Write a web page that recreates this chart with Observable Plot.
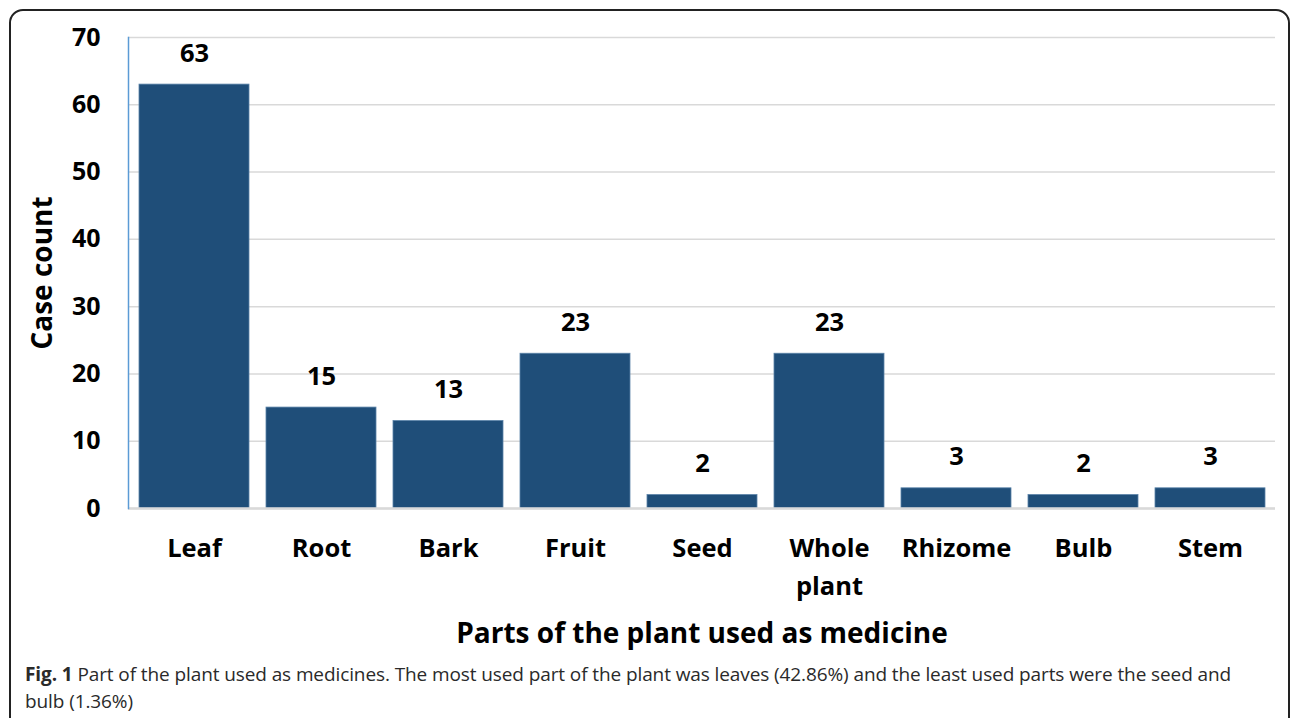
<!DOCTYPE html>
<html>
<head>
<meta charset="utf-8">
<script src="https://cdn.jsdelivr.net/npm/d3@7"></script>
<script src="https://cdn.jsdelivr.net/npm/@observablehq/plot@0.6"></script>
<style>
  html, body { margin: 0; padding: 0; background: #fff; overflow: hidden; }
  #wrap { position: relative; width: 1292px; height: 718px; }
  #frame { position: absolute; left: 9px; top: 9px; width: 1281px; height: 760px;
           border: 2px solid #222; border-radius: 14px; box-sizing: border-box; }
  #chart { position: absolute; left: 0; top: 0; }
  #caption { position: absolute; left: 25px; top: 661px; width: 1232px;
             font-family: "Open Sans", sans-serif; font-size: 19px; line-height: 27px; color: #2a2a2a;
             letter-spacing: -0.1px; }
  #caption b { font-weight: 700; }
</style>
</head>
<body>
<div id="wrap">
  <div id="frame"></div>
  <div id="chart"></div>
  <div id="caption"><b>Fig. 1</b> Part of the plant used as medicines. The most used part of the plant was leaves (42.86%) and the least used parts were the seed and bulb (1.36%)</div>
</div>
<script>
const categories = ["Leaf", "Root", "Bark", "Fruit", "Seed", "Whole plant", "Rhizome", "Bulb", "Stem"];
const counts = [63, 15, 13, 23, 2, 23, 3, 2, 3];
const tickLabels = ["Leaf", "Root", "Bark", "Fruit", "Seed", "Whole\nplant", "Rhizome", "Bulb", "Stem"];
const yTicks = [0, 10, 20, 30, 40, 50, 60, 70];

const data = categories.map((c, i) => ({part: c, count: counts[i]}));
const labelMap = new Map(categories.map((c, i) => [c, tickLabels[i]]));

const chart = Plot.plot({
  width: 1292,
  height: 660,
  marginTop: 37,
  marginLeft: 128,
  marginRight: 17,
  marginBottom: 152,
  style: {fontFamily: "'Open Sans', sans-serif", background: "transparent"},
  x: {domain: categories, paddingInner: 0.134, paddingOuter: 0.067},
  y: {domain: [0, 70]},
  marks: [
    Plot.gridY(yTicks, {stroke: "#d9d9d9", strokeOpacity: 1, strokeWidth: 1.5}),
    Plot.barY(data, {x: "part", y: "count", fill: "#1f4e79", stroke: "#5b83a8", strokeWidth: 0.8}),
    Plot.ruleY([0], {stroke: "#d9d9d9", strokeWidth: 2.5}),
    Plot.frame({anchor: "left", stroke: "#5b9bd5", strokeWidth: 1.5}),
    Plot.text(data, {x: "part", y: "count", text: d => String(d.count), dy: -31,
      fontSize: 25.5, fontWeight: "bold", fill: "#000"}),
    Plot.axisY(yTicks, {tickSize: 0, tickPadding: 28, fontSize: 25, fontWeight: "bold", fill: "#000",
      label: "Case count", labelAnchor: "center", labelArrow: "none", labelOffset: 96}),
    Plot.axisX({tickSize: 0, tickPadding: 21, fontSize: 25.5, fontWeight: "bold", fill: "#000",
      lineHeight: 1.5, tickFormat: d => labelMap.get(d),
      label: "Parts of the plant used as medicine", labelAnchor: "center", labelArrow: "none", labelOffset: 134})
  ]
});
chart.querySelectorAll("[aria-label='y-axis label'], [aria-label='x-axis label']").forEach(g => {
  g.setAttribute("font-size", "28");
  g.setAttribute("font-weight", "bold");
});
document.getElementById("chart").appendChild(chart);
</script>
</body>
</html>
